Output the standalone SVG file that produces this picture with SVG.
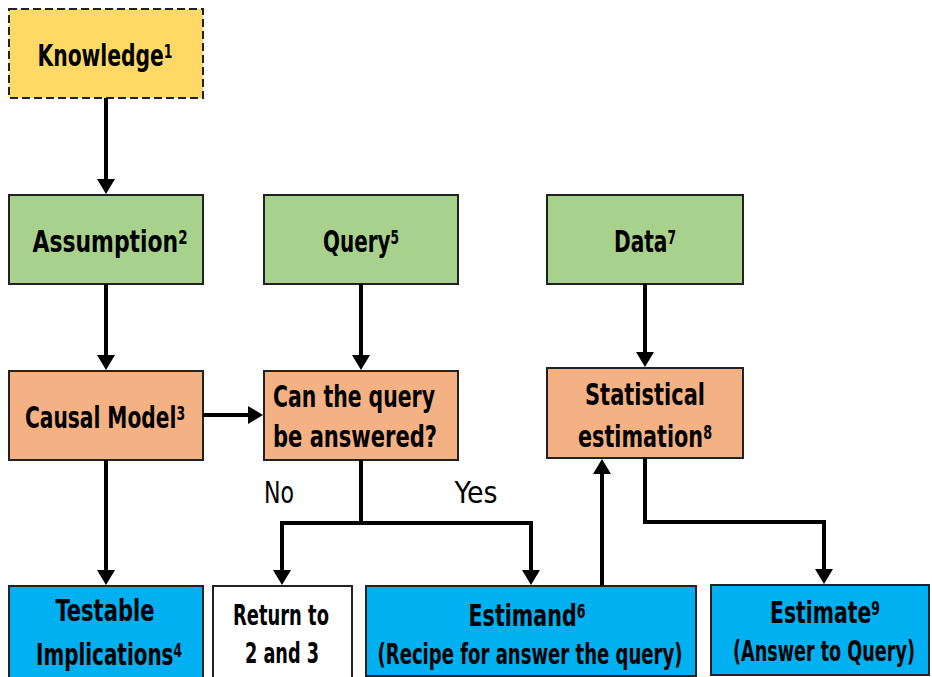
<svg xmlns="http://www.w3.org/2000/svg" width="932" height="677" viewBox="0 0 932 677">
  <style>
    .box { stroke: #222; stroke-width: 2; }
    .yellow { fill: #FFD966; stroke-dasharray: 8 4; }
    .green { fill: #A9D18E; }
    .orange { fill: #F4B183; }
    .blue { fill: #00B0F0; }
    .white { fill: #FFFFFF; }
    text { font-family: "DejaVu Sans Condensed", "Liberation Sans", sans-serif; font-weight: bold; font-size: 31px; fill: #000; text-anchor: middle; }
    .sup { font-size: 19px; }
    .small { font-size: 28px; }
    .lbl { font-weight: normal; font-size: 30px; }
    .conn { fill: none; stroke: #000; stroke-width: 4; stroke-linejoin: miter; }
  </style>
  <defs>
    <marker id="arrow" viewBox="0 0 15 18" refX="1" refY="9" markerWidth="15" markerHeight="18" markerUnits="userSpaceOnUse" orient="auto">
      <path d="M0,0 L15,9 L0,18 z" fill="#000"/>
    </marker>
  </defs>

  <g id="knowledge">
    <rect class="box yellow" x="9" y="9" width="194" height="89"/>
    <text x="105" y="66" textLength="135" lengthAdjust="spacingAndGlyphs">Knowledge<tspan class="sup" dy="-8">1</tspan></text>
  </g>
  <g id="assumption">
    <rect class="box green" x="9" y="195" width="194" height="89"/>
    <text x="110" y="252" textLength="155" lengthAdjust="spacingAndGlyphs">Assumption<tspan class="sup" dy="-8">2</tspan></text>
  </g>
  <g id="query">
    <rect class="box green" x="264" y="195" width="194" height="89"/>
    <text x="361" y="252" textLength="76" lengthAdjust="spacingAndGlyphs">Query<tspan class="sup" dy="-8">5</tspan></text>
  </g>
  <g id="data">
    <rect class="box green" x="547" y="195" width="196" height="89"/>
    <text x="645" y="252" textLength="62" lengthAdjust="spacingAndGlyphs">Data<tspan class="sup" dy="-8">7</tspan></text>
  </g>
  <g id="causal-model">
    <rect class="box orange" x="9" y="371" width="194" height="89"/>
    <text x="105" y="428" textLength="160" lengthAdjust="spacingAndGlyphs">Causal Model<tspan class="sup" dy="-8">3</tspan></text>
  </g>
  <g id="can-answer">
    <rect class="box orange" x="264" y="371" width="194" height="89"/>
    <text x="273" y="407" style="text-anchor:start" textLength="162" lengthAdjust="spacingAndGlyphs">Can the query</text>
    <text x="273" y="447" style="text-anchor:start" textLength="164" lengthAdjust="spacingAndGlyphs">be answered?</text>
  </g>
  <g id="statistical-estimation">
    <rect class="box orange" x="547" y="368" width="196" height="90"/>
    <text x="645" y="405" textLength="120" lengthAdjust="spacingAndGlyphs">Statistical</text>
    <text x="645" y="447" textLength="134" lengthAdjust="spacingAndGlyphs">estimation<tspan class="sup" dy="-8">8</tspan></text>
  </g>
  <g id="testable-implications">
    <rect class="box blue" x="9" y="586" width="194" height="92"/>
    <text x="105" y="621" textLength="99" lengthAdjust="spacingAndGlyphs">Testable</text>
    <text x="109" y="665" textLength="146" lengthAdjust="spacingAndGlyphs">Implications<tspan class="sup" dy="-8">4</tspan></text>
  </g>
  <g id="return">
    <rect class="box white" x="213" y="586" width="139" height="92"/>
    <text x="281" y="625" class="small" textLength="96" lengthAdjust="spacingAndGlyphs">Return to</text>
    <text x="282" y="663" class="small" textLength="74" lengthAdjust="spacingAndGlyphs">2 and 3</text>
  </g>
  <g id="estimand">
    <rect class="box blue" x="366" y="586" width="330" height="90"/>
    <text x="527" y="626" textLength="117" lengthAdjust="spacingAndGlyphs">Estimand<tspan class="sup" dy="-8">6</tspan></text>
    <text x="530" y="664" class="small" textLength="305" lengthAdjust="spacingAndGlyphs">(Recipe for answer the query)</text>
  </g>
  <g id="estimate">
    <rect class="box blue" x="711" y="585" width="218" height="90"/>
    <text x="825" y="623" textLength="110" lengthAdjust="spacingAndGlyphs">Estimate<tspan class="sup" dy="-8">9</tspan></text>
    <text x="824" y="661" class="small" textLength="182" lengthAdjust="spacingAndGlyphs">(Answer to Query)</text>
  </g>

  <g id="labels">
    <text x="279" y="503" class="lbl" textLength="30" lengthAdjust="spacingAndGlyphs">No</text>
    <text x="476" y="503" class="lbl" textLength="43" lengthAdjust="spacingAndGlyphs">Yes</text>
  </g>

  <g id="connectors">
    <path class="conn" d="M106,98 V180" marker-end="url(#arrow)"/>
    <path class="conn" d="M106,284 V356" marker-end="url(#arrow)"/>
    <path class="conn" d="M361,284 V356" marker-end="url(#arrow)"/>
    <path class="conn" d="M645,284 V353" marker-end="url(#arrow)"/>
    <path class="conn" d="M203,415 H249" marker-end="url(#arrow)"/>
    <path class="conn" d="M106,460 V571" marker-end="url(#arrow)"/>
    <path class="conn" d="M361,460 V523 H282 V571" marker-end="url(#arrow)"/>
    <path class="conn" d="M361,523 H531 V571" marker-end="url(#arrow)"/>
    <path class="conn" d="M602,586 V473" marker-end="url(#arrow)"/>
    <path class="conn" d="M645,458 V522 H824 V570" marker-end="url(#arrow)"/>
  </g>
</svg>
